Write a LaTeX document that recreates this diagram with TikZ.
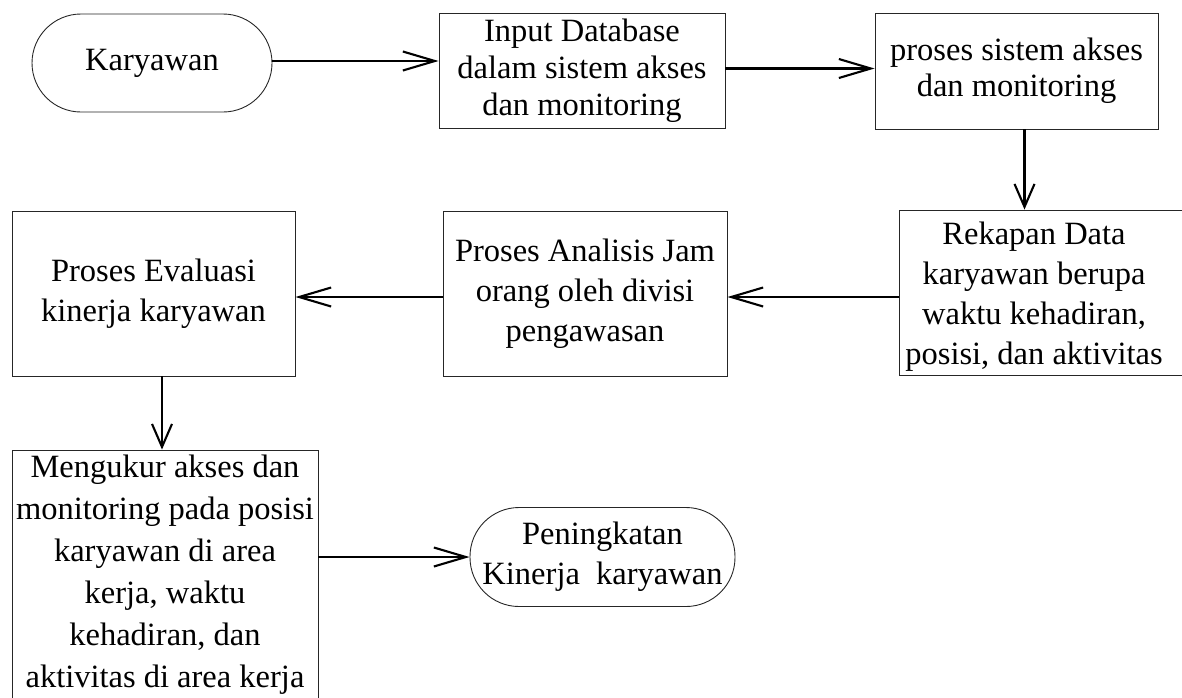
\documentclass[tikz,border=0pt]{standalone}
\usepackage{fontspec}
\setmainfont{Liberation Serif}
\usetikzlibrary{arrows.meta}
\begin{document}
\begin{tikzpicture}[x=1pt, y=-1pt,
  box/.style={draw=black!85, line width=0.9pt, inner sep=0pt, align=center,
              font=\fontsize{32.5}{40}\selectfont},
  term/.style={box, rounded corners=49pt},
  txt/.style={inner sep=0pt, align=center, font=\fontsize{32.5}{40}\selectfont},
  flow/.style={line width=2.1pt, -{Straight Barb[length=32pt,width=19pt]}},
  flowdown/.style={line width=2.1pt, -{Straight Barb[length=23pt,width=20pt]}}]
\useasboundingbox (0,0) rectangle (1182,697);
\clip (0,0) rectangle (1182,697);

% top row
\node[term, minimum width=240pt, minimum height=98pt] (kar) at (152,63) {Karyawan};
\node[box, minimum width=286pt, minimum height=115pt, font=\fontsize{32.5}{37}\selectfont]
  (inp) at (582,70.5) {Input Database\\dalam sistem akses\\dan monitoring};
\node[box, minimum width=283pt, minimum height=116pt, font=\fontsize{32.5}{36}\selectfont]
  (proc) at (1016.5,71) {proses sistem akses\\dan monitoring};

% middle row
\node[box, minimum width=291pt, minimum height=165pt] (rekap) at (1044.5,292.5) {};
\node[txt] (rekaptxt) at (1034,297)
  {Rekapan Data\\karyawan berupa\\waktu kehadiran,\\posisi, dan aktivitas};
\node[box, minimum width=284pt, minimum height=165pt] (anal) at (585,293.5)
  {Proses Analisis Jam\\orang oleh divisi\\pengawasan};
\node[box, minimum width=283pt, minimum height=165pt] (eval) at (153.5,293.5)
  {Proses Evaluasi\\kinerja karyawan};

% bottom row: the measuring box runs past the lower edge
\node[box, minimum width=306pt, minimum height=255pt] (ukur) at (165,577.5) {};
\node[txt, font=\fontsize{32.5}{42}\selectfont] (ukurtxt) at (165,575)
  {Mengukur akses dan\\monitoring pada posisi\\karyawan di area\\kerja, waktu\\kehadiran, dan\\aktivitas di area kerja};
\node[term, minimum width=265pt, minimum height=99pt] (pen) at (602.5,557)
  {Peningkatan\\Kinerja\ \ karyawan};

% connectors
\draw[flow] ([yshift=2pt]kar.east) -- ([yshift=2pt]kar.east -| inp.west);
\draw[flow] ([yshift=2pt]inp.east) -- ([yshift=2pt]inp.east -| proc.west);
\draw[flowdown] ([xshift=8pt]proc.south) -- ([xshift=8pt]proc.south |- rekap.north);
\draw[flow] ([yshift=-4.5pt]rekap.west) -- ([yshift=-4.5pt]rekap.west -| anal.east);
\draw[flow] ([yshift=-3.5pt]anal.west) -- ([yshift=-3.5pt]anal.west -| eval.east);
\draw[flowdown] ([xshift=8.5pt]eval.south) -- ([xshift=8.5pt]eval.south |- ukur.north);
\draw[flow] (ukur.east |- pen.west) -- (pen.west);
\end{tikzpicture}
\end{document}
